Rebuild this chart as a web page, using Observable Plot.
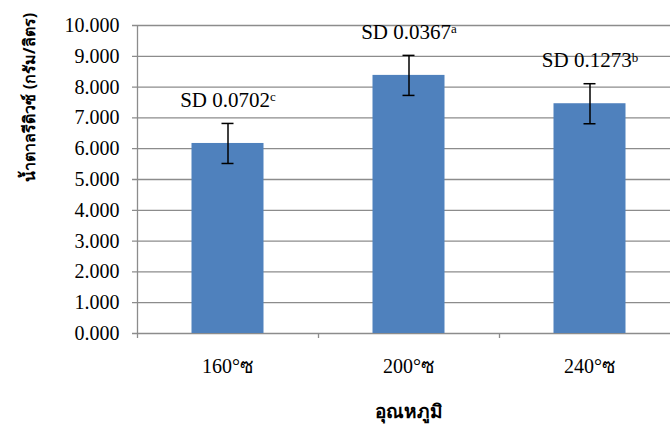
<!DOCTYPE html>
<html><head><meta charset="utf-8">
<script src="https://cdn.jsdelivr.net/npm/d3@7"></script>
<script src="https://cdn.jsdelivr.net/npm/@observablehq/plot@0.6"></script>
<style>body{margin:0;background:#fff;overflow:hidden}</style>
</head><body><div id="chart"></div>
<script>
const categories = ["160°ซ", "200°ซ", "240°ซ"];
const means = [6.17, 8.38, 7.46];
const errors = [0.65, 0.65, 0.65];
const sdValues = ["0.0702", "0.0367", "0.1273"];
const sdLetters = ["c", "a", "b"];
const yTicks = [0, 1, 2, 3, 4, 5, 6, 7, 8, 9, 10];
const yTitle = "น้ำตาลรีดิวซ์ (กรัม/ลิตร)";
const xTitle = "อุณหภูมิ";

const data = categories.map((c, i) => ({cat: c, mean: means[i], err: errors[i], sd: "SD " + sdValues[i], letter: sdLetters[i]}));

const W = 670, H = 433, mL = 137, mR = -10, mT = 25, mB = 100;
const bw = (W - mL - mR) / categories.length;
const frameH = H - mT - mB;
const serif = "'Liberation Serif','Times New Roman',serif";
const thai = "'Noto Sans','DejaVu Sans',sans-serif";
const grey = "#8c8c8c";
const fmt = d3.format(".3f");

const chart = Plot.plot({
  width: W, height: H,
  marginLeft: mL, marginRight: mR, marginTop: mT, marginBottom: mB,
  style: {fontFamily: serif, background: "#fff", color: "#000"},
  x: {domain: categories, padding: 0, axis: null},
  y: {domain: [0, 10], axis: null},
  marks: [
    // gridlines, extended 5px to the left as the axis ticks
    Plot.ruleY(yTicks, {stroke: grey, strokeWidth: 1.3, insetLeft: -5}),
    Plot.ruleX([categories[0]], {dx: -bw / 2, stroke: grey, strokeWidth: 1.3}),
    Plot.ruleX(categories, {dx: -bw / 2, insetTop: frameH, insetBottom: -5, stroke: grey, strokeWidth: 1.3}),
    Plot.text(yTicks, {y: d => d, text: d => fmt(d), frameAnchor: "left", dx: -18, textAnchor: "end", fontSize: 20, fontFamily: serif, fill: "#000"}),
    Plot.axisX({tickSize: 0, tickPadding: 25, fontSize: 20, fontFamily: serif, fill: "#000", label: null}),
    Plot.barY(data, {x: "cat", y: "mean", fill: "#4f81bd", insetLeft: (bw - 72) / 2, insetRight: (bw - 72) / 2}),
    Plot.ruleX(data, {x: "cat", y1: d => d.mean - d.err, y2: d => d.mean + d.err, stroke: "#000", strokeWidth: 1.5}),
    Plot.tickY(data, {x: "cat", y: d => d.mean + d.err, stroke: "#000", strokeWidth: 1.5, insetLeft: (bw - 12) / 2, insetRight: (bw - 12) / 2}),
    Plot.tickY(data, {x: "cat", y: d => d.mean - d.err, stroke: "#000", strokeWidth: 1.5, insetLeft: (bw - 12) / 2, insetRight: (bw - 12) / 2}),
    Plot.text(data, {x: "cat", y: d => d.mean + d.err, dy: -23, text: "sd", fontSize: 21, fontFamily: serif, fill: "#000"}),
    Plot.text([yTitle], {frameAnchor: "left", rotate: -90, dx: -108, dy: 2, fontSize: 16, fontWeight: "bold", fontFamily: thai, fill: "#000"}),
    Plot.text([xTitle], {frameAnchor: "bottom", dy: 84, fontSize: 19, fontWeight: "bold", fontFamily: thai, fill: "#000"})
  ]
});
document.getElementById("chart").appendChild(chart);

// add the superscript significance letters to the SD labels
const sdTexts = Array.from(chart.querySelectorAll("text")).filter(t => t.textContent.startsWith("SD "));
sdTexts.forEach((t, i) => {
  const ts = document.createElementNS("http://www.w3.org/2000/svg", "tspan");
  ts.setAttribute("dy", "-0.45em");
  ts.setAttribute("font-size", "13");
  ts.textContent = sdLetters[i];
  t.appendChild(ts);
});
</script>
</body></html>
